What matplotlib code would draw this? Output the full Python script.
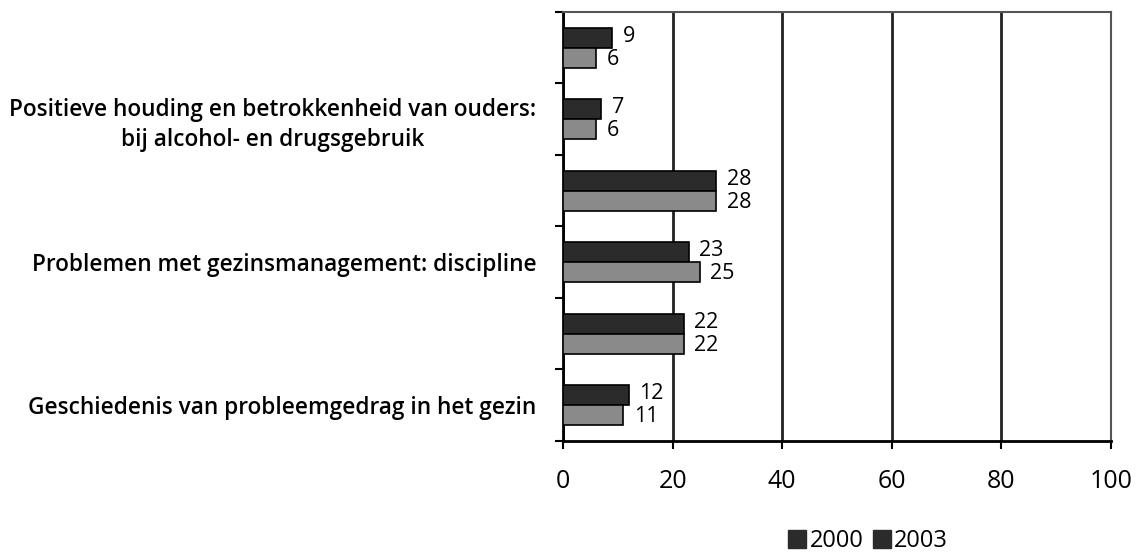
import matplotlib
matplotlib.use('Agg')
import matplotlib.pyplot as plt
import matplotlib.patches as mpatches
import numpy as np

plt.rcParams['font.family'] = ['Open Sans', 'DejaVu Sans']

# data (top to bottom)
categories = [
    "",
    "Positieve houding en betrokkenheid van ouders:\nbij alcohol- en drugsgebruik",
    "",
    "Problemen met gezinsmanagement: discipline",
    "",
    "Geschiedenis van probleemgedrag in het gezin",
]
vals_2000 = [9, 7, 28, 23, 22, 12]
vals_2003 = [6, 6, 28, 25, 22, 11]
series_names = ["2000", "2003"]
xticks = [0, 20, 40, 60, 80, 100]

C_2000 = '#2b2b2b'
C_2003 = '#8a8a8a'

fig = plt.figure(figsize=(11.41, 5.57), dpi=100)
ax = fig.add_axes([0.4934, 0.2083, 0.4803, 0.7702])

n = len(categories)
y = np.arange(n)
h = 0.28
ax.barh(y - h/2, vals_2000, height=h, color=C_2000, edgecolor='black', linewidth=1.2, zorder=3)
ax.barh(y + h/2, vals_2003, height=h, color=C_2003, edgecolor='black', linewidth=1.2, zorder=3)

# value labels, nudged apart a little so the pairs don't collide
for yi, v in zip(y, vals_2000):
    ax.text(v + 1.9, yi - h/2 - 0.02, str(v), va='center', ha='left', fontsize=15.5)
for yi, v in zip(y, vals_2003):
    ax.text(v + 1.9, yi + h/2 + 0.02, str(v), va='center', ha='left', fontsize=15.5)

ax.set_ylim(n - 0.5, -0.5)
ax.set_xlim(0, 100)
ax.set_yticks(y)
ax.set_yticklabels(categories, fontsize=16.3, fontweight='semibold',
                   multialignment='center', linespacing=1.3)
ax.set_yticks(np.arange(-0.5, n, 1), minor=True)
ax.tick_params(axis='y', which='major', length=0, pad=19)
ax.tick_params(axis='y', which='minor', length=6, width=1.5, direction='out')
ax.set_xticks(xticks)
ax.set_xticklabels([str(t) for t in xticks], fontsize=18)
ax.tick_params(axis='x', length=6, width=1.5, direction='out', pad=14)

ax.grid(axis='x', color='#222222', linewidth=2, zorder=0)
ax.spines['left'].set_linewidth(2)
ax.spines['bottom'].set_linewidth(2)
ax.spines['top'].set_color('#555555')
ax.spines['right'].set_color('#555555')
ax.spines['top'].set_linewidth(1.5)
ax.spines['right'].set_linewidth(1.5)

handles = [mpatches.Patch(color=C_2000, label=series_names[0]),
           mpatches.Patch(color=C_2000, label=series_names[1])]
fig.legend(handles=handles, loc='center', bbox_to_anchor=(0.761, 0.028), ncol=2,
           frameon=False, fontsize=17, handlelength=0.75, handleheight=0.8,
           handletextpad=0.15, columnspacing=0.4)

fig.savefig('out.png', dpi=100, facecolor='white')
